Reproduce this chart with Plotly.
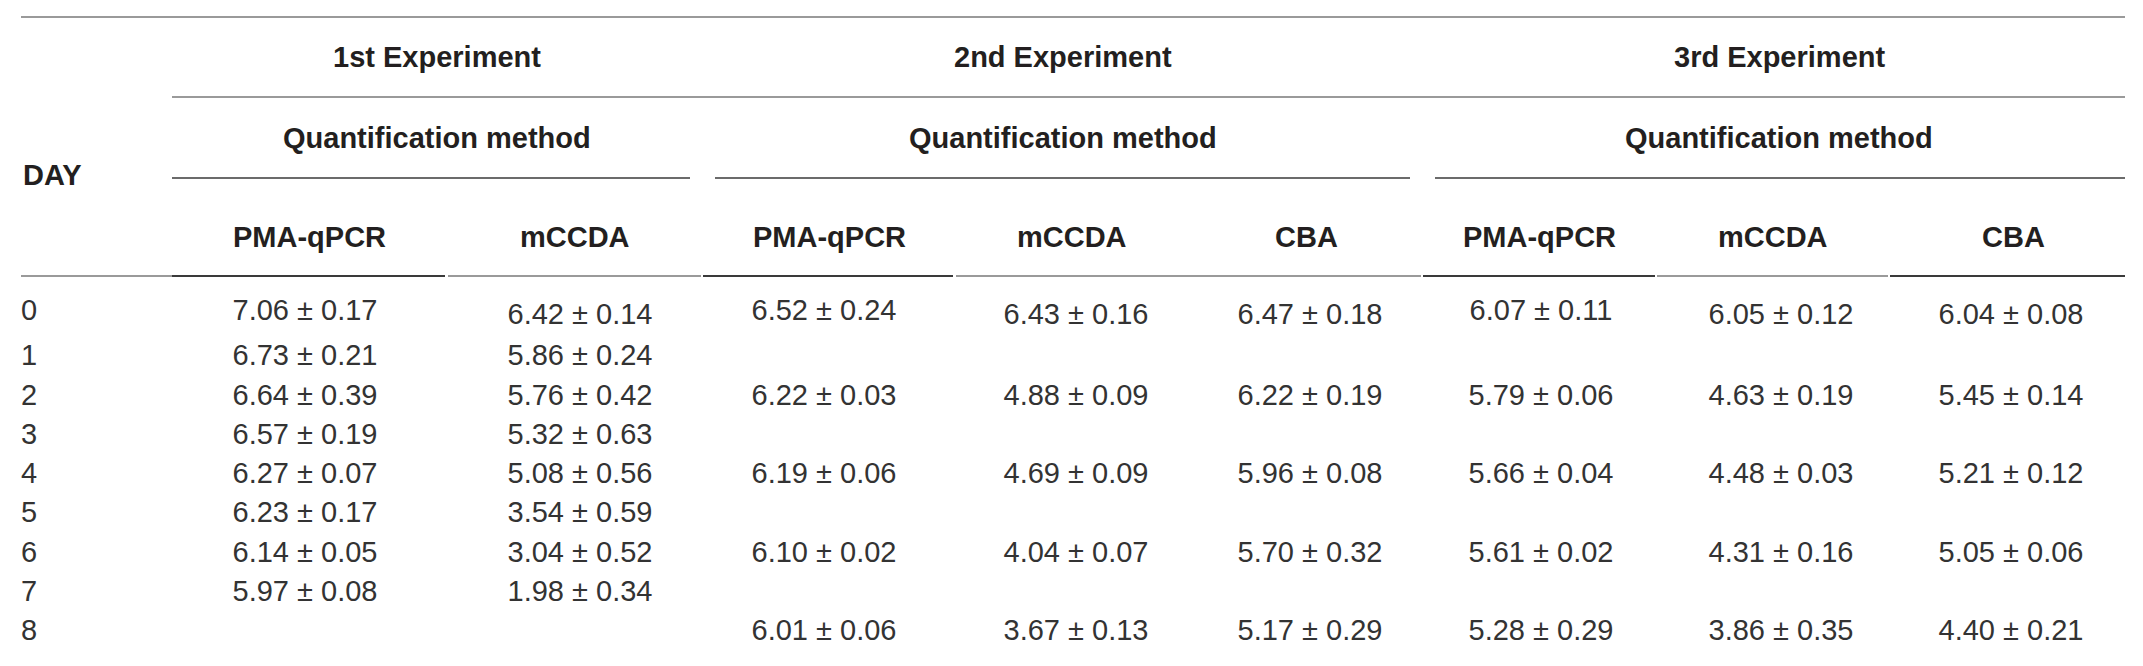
import plotly.graph_objects as go

# ---------------- data ----------------
days = [0, 1, 2, 3, 4, 5, 6, 7, 8]
days_even = [0, 2, 4, 6, 8]

exp1_pma_mean = [7.06, 6.73, 6.64, 6.57, 6.27, 6.23, 6.14, 5.97, None]
exp1_pma_sd = [0.17, 0.21, 0.39, 0.19, 0.07, 0.17, 0.05, 0.08, None]
exp1_mccda_mean = [6.42, 5.86, 5.76, 5.32, 5.08, 3.54, 3.04, 1.98, None]
exp1_mccda_sd = [0.14, 0.24, 0.42, 0.63, 0.56, 0.59, 0.52, 0.34, None]

exp2_pma_mean = [6.52, 6.22, 6.19, 6.10, 6.01]
exp2_pma_sd = [0.24, 0.03, 0.06, 0.02, 0.06]
exp2_mccda_mean = [6.43, 4.88, 4.69, 4.04, 3.67]
exp2_mccda_sd = [0.16, 0.09, 0.09, 0.07, 0.13]
exp2_cba_mean = [6.47, 6.22, 5.96, 5.70, 5.17]
exp2_cba_sd = [0.18, 0.19, 0.08, 0.32, 0.29]

exp3_pma_mean = [6.07, 5.79, 5.66, 5.61, 5.28]
exp3_pma_sd = [0.11, 0.06, 0.04, 0.02, 0.29]
exp3_mccda_mean = [6.05, 4.63, 4.48, 4.31, 3.86]
exp3_mccda_sd = [0.12, 0.19, 0.03, 0.16, 0.35]
exp3_cba_mean = [6.04, 5.45, 5.21, 5.05, 4.40]
exp3_cba_sd = [0.08, 0.14, 0.12, 0.06, 0.21]

experiment_labels = ["1st Experiment", "2nd Experiment", "3rd Experiment"]
group_label = "Quantification method"
method_labels_1 = ["PMA-qPCR", "mCCDA"]
method_labels_3 = ["PMA-qPCR", "mCCDA", "CBA"]
day_header = "DAY"

# ---------------- layout constants (page pixels) ----------------
W, H = 2143, 666
OFF = 8                      # default body margin of the html page
FW, FH = W - 2 * OFF, H - 2 * OFF
ROW1_PX, ROW_STEP_PX = 358, 39.3   # day 1 row centre and spacing
ROW0_HIGH_PX, ROW0_LOW_PX = 313, 317
DAY_X = 21
COL_X = {
    "e1_pma": 305, "e1_mccda": 580,
    "e2_pma": 824, "e2_mccda": 1076, "e2_cba": 1310,
    "e3_pma": 1541, "e3_mccda": 1781, "e3_cba": 2011,
}
HDR_X = {
    "e1_pma": 309, "e1_mccda": 575,
    "e2_pma": 829, "e2_mccda": 1072, "e2_cba": 1306,
    "e3_pma": 1539, "e3_mccda": 1773, "e3_cba": 2013,
}
EXP_X = [437, 1063, 1779]
HIGH_ROW0 = {"e1_pma", "e2_pma", "e3_pma"}
HDR_COLOR = "#231f20"
TXT_COLOR = "#333333"
FONT = "Liberation Sans, Arial, Helvetica, sans-serif"
HDR_SIZE = 29
TXT_SIZE = 29


def py2paper(py):
    return 1 - (py - OFF) / FH


def px2day(py):
    return 1 + (py - ROW1_PX) / ROW_STEP_PX


def row_y(d, high):
    if d == 0:
        return px2day(ROW0_HIGH_PX if high else ROW0_LOW_PX)
    return d


def fmt(m, s):
    if m is None:
        return ""
    return f"{m:.2f} ± {s:.2f}"


fig = go.Figure()

# day column
fig.add_trace(go.Scatter(
    x=[DAY_X] * len(days), y=[row_y(d, True) for d in days], mode="text",
    text=[str(d) for d in days], textposition="middle right",
    textfont=dict(family=FONT, size=TXT_SIZE, color=TXT_COLOR),
    hoverinfo="skip", showlegend=False))

columns = [
    ("e1_pma", days, exp1_pma_mean, exp1_pma_sd),
    ("e1_mccda", days, exp1_mccda_mean, exp1_mccda_sd),
    ("e2_pma", days_even, exp2_pma_mean, exp2_pma_sd),
    ("e2_mccda", days_even, exp2_mccda_mean, exp2_mccda_sd),
    ("e2_cba", days_even, exp2_cba_mean, exp2_cba_sd),
    ("e3_pma", days_even, exp3_pma_mean, exp3_pma_sd),
    ("e3_mccda", days_even, exp3_mccda_mean, exp3_mccda_sd),
    ("e3_cba", days_even, exp3_cba_mean, exp3_cba_sd),
]
for key, dd, means, sds in columns:
    fig.add_trace(go.Scatter(
        x=[COL_X[key]] * len(dd),
        y=[row_y(d, key in HIGH_ROW0) for d in dd], mode="text",
        text=[fmt(m, s) for m, s in zip(means, sds)],
        textposition="middle center",
        textfont=dict(family=FONT, size=TXT_SIZE, color=TXT_COLOR),
        hoverinfo="skip", showlegend=False))

# ---------------- header text ----------------
ann = []
def add_hdr(x, py, text, anchor="center"):
    ann.append(dict(x=x, y=py2paper(py), xref="x", yref="paper", text=text,
                    showarrow=False, xanchor=anchor, yanchor="middle",
                    font=dict(family=FONT, size=HDR_SIZE, color=HDR_COLOR)))

add_hdr(DAY_X, 175, f"<b>{day_header}</b>", "left")
for x, lab in zip(EXP_X, experiment_labels):
    add_hdr(x, 57, f"<b>{lab}</b>")
    add_hdr(x, 138, f"<b>{group_label}</b>")
for k, lab in zip(["e1_pma", "e1_mccda"], method_labels_1):
    add_hdr(HDR_X[k], 237, f"<b>{lab}</b>")
for k, lab in zip(["e2_pma", "e2_mccda", "e2_cba"], method_labels_3):
    add_hdr(HDR_X[k], 237, f"<b>{lab}</b>")
for k, lab in zip(["e3_pma", "e3_mccda", "e3_cba"], method_labels_3):
    add_hdr(HDR_X[k], 237, f"<b>{lab}</b>")

# ---------------- rules ----------------
LIGHT = "#9a9a9a"
DARK = "#3a3a3a"
shapes = []
def hline(x0, x1, py, color, w=1.6):
    shapes.append(dict(type="line", xref="x", yref="paper", x0=x0, x1=x1,
                       y0=py2paper(py), y1=py2paper(py),
                       line=dict(color=color, width=w)))

hline(21, 2125, 17, LIGHT, 2)
hline(172, 2125, 97, LIGHT, 1.8)
for x0, x1 in [(172, 690), (715, 1410), (1435, 2125)]:
    hline(x0, x1, 178, DARK, 1.6)
for x0, x1, c in [(21, 172, LIGHT), (172, 445, DARK), (448, 701, LIGHT),
                  (703, 953, DARK), (956, 1421, LIGHT), (1423, 1655, DARK),
                  (1657, 1888, LIGHT), (1890, 2125, DARK)]:
    hline(x0, x1, 276, c, 1.8)

fig.update_layout(
    width=FW, height=FH,
    margin=dict(l=0, r=0, t=0, b=0),
    paper_bgcolor="white", plot_bgcolor="white",
    xaxis=dict(range=[OFF, OFF + FW], visible=False, fixedrange=True),
    yaxis=dict(range=[px2day(OFF + FH), px2day(OFF)], visible=False,
               fixedrange=True),
    annotations=ann, shapes=shapes,
)

fig.write_html("out.html")
